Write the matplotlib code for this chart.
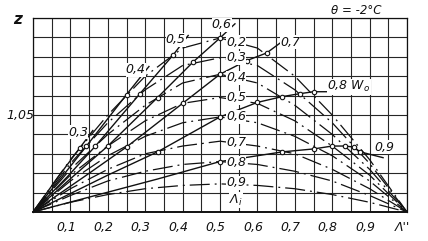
import numpy as np
import matplotlib
matplotlib.use("Agg")
import matplotlib.pyplot as plt

# ---------------- data ----------------
lam_levels = ["0,2", "0,3", "0,4", "0,5", "0,6", "0,7", "0,8", "0,9"]
arch_x = [0.0, 0.1, 0.2, 0.3, 0.4, 0.5, 0.6, 0.7, 0.8, 0.9, 1.0]
arch_02 = [1.000, 1.027, 1.050, 1.070, 1.0845, 1.0897, 1.0845, 1.070, 1.050, 1.027, 1.000]
arch_03 = [1.000, 1.025, 1.046, 1.063, 1.0755, 1.0795, 1.0755, 1.063, 1.046, 1.025, 1.000]
arch_04 = [1.000, 1.022, 1.040, 1.055, 1.0665, 1.071, 1.0665, 1.055, 1.040, 1.022, 1.000]
arch_05 = [1.000, 1.019, 1.034, 1.047, 1.056, 1.059, 1.056, 1.047, 1.034, 1.019, 1.000]
arch_06 = [1.000, 1.016, 1.029, 1.039, 1.046, 1.049, 1.046, 1.039, 1.029, 1.016, 1.000]
arch_07 = [1.000, 1.012, 1.022, 1.030, 1.034, 1.0365, 1.034, 1.030, 1.022, 1.012, 1.000]
arch_08 = [1.000, 1.0085, 1.016, 1.021, 1.0245, 1.026, 1.0245, 1.021, 1.016, 1.0085, 1.000]
arch_09 = [1.000, 1.005, 1.009, 1.012, 1.0137, 1.0145, 1.0137, 1.012, 1.009, 1.005, 1.000]
arches = [arch_02, arch_03, arch_04, arch_05, arch_06, arch_07, arch_08, arch_09]
lam_label_x = 0.543
lam_label_z = [1.0876, 1.0794, 1.0691, 1.0588, 1.0490, 1.0360, 1.0253, 1.0150]

# W_o curves: line points and marker points
wo_names = ["0,3", "0,4", "0,5", "0,6", "0,7", "0,8 W$_o$", "0,9"]
wo03_x = [0, 0.067, 0.125, 0.16];  wo03_z = [1.0, 1.018, 1.033, 1.042]
wo04_x = [0, 0.077, 0.143, 0.25, 0.31];  wo04_z = [1.0, 1.018, 1.034, 1.0605, 1.075]
wo05_x = [0, 0.091, 0.167, 0.286, 0.375, 0.415];  wo05_z = [1.0, 1.018, 1.034, 1.061, 1.081, 1.091]
wo06_x = [0, 0.111, 0.2, 0.333, 0.429, 0.5, 0.54];  wo06_z = [1.0, 1.019, 1.034, 1.059, 1.0775, 1.0897, 1.097]
wo07_x = [0, 0.143, 0.25, 0.4, 0.5, 0.571, 0.625, 0.66];  wo07_z = [1.0, 1.019, 1.0335, 1.056, 1.071, 1.078, 1.082, 1.087]
wo08_x = [0, 0.2, 0.333, 0.5, 0.6, 0.667, 0.714, 0.75, 0.81];  wo08_z = [1.0, 1.019, 1.031, 1.049, 1.0565, 1.0595, 1.061, 1.062, 1.062]
wo09_x = [0, 0.333, 0.5, 0.667, 0.75, 0.8, 0.833, 0.857, 0.875, 0.936];  wo09_z = [1.0, 1.017, 1.026, 1.031, 1.0325, 1.034, 1.034, 1.0335, 1.031, 1.028]
wo_lines = [(wo03_x, wo03_z), (wo04_x, wo04_z), (wo05_x, wo05_z), (wo06_x, wo06_z),
            (wo07_x, wo07_z), (wo08_x, wo08_z), (wo09_x, wo09_z)]
# markers = intersections with the Lambda_i arches (skip origin, half point and label extension)
wo_marker_slices = [(2, 3), (2, 4), (2, 5), (2, 6), (2, 7), (2, 8), (2, 9)]
wo_label_x = [0.120, 0.275, 0.382, 0.505, 0.687, 0.845, 0.939]
wo_label_z = [1.0412, 1.0732, 1.0887, 1.0964, 1.0876, 1.0645, 1.0335]

xtick_vals = [0.1, 0.2, 0.3, 0.4, 0.5, 0.6, 0.7, 0.8, 0.9, 1.0]
xtick_labels = ["0,1", "0,2", "0,3", "0,4", "0,5", "0,6", "0,7", "0,8", "0,9", "Λ''"]

# ---------------- drawing ----------------
FONT = ["Liberation Sans Narrow", "DejaVu Sans"]
plt.rcParams["font.family"] = FONT
ink = "#111111"

fig = plt.figure(figsize=(4.28, 2.41), dpi=100)
ax = fig.add_axes([33 / 428, 29 / 241, 374 / 428, 194 / 241])
ax.set_xlim(0, 1)
ax.set_ylim(1.0, 1.1)
ax.set_xticks(np.arange(0, 1.0001, 0.05))
ax.set_yticks(np.arange(1.0, 1.1001, 0.01))
ax.tick_params(length=0, labelbottom=False, labelleft=False)
ax.grid(True, color="#262626", lw=0.8)
for s in ax.spines.values():
    s.set_color(ink)
    s.set_linewidth(0.9)
ax.spines["bottom"].set_linewidth(1.4)
ax.set_axisbelow(True)

dash = (0, (16, 4, 1.5, 4))
for az in arches:
    ax.plot(arch_x, az, color=ink, lw=0.9, linestyle=dash, zorder=3)

for (lx, lz), (a, b) in zip(wo_lines, wo_marker_slices):
    ax.plot(lx, lz, color=ink, lw=1.0, zorder=4)
    ax.plot(lx[a:b], lz[a:b], linestyle="none", marker="o", ms=3.2,
            mfc="white", mec=ink, mew=0.8, zorder=5)

for lab, z in zip(lam_levels, lam_label_z):
    ax.text(lam_label_x, z, lab, fontsize=9, style="italic", color=ink,
            ha="center", va="center", zorder=6,
            bbox=dict(facecolor="white", edgecolor="none", pad=0.3))
ax.text(lam_label_x, 1.0062, "Λ$_i$", fontsize=9, style="italic", color=ink,
        ha="center", va="center", zorder=6,
        bbox=dict(facecolor="white", edgecolor="none", pad=0.3))

for lab, x, z in zip(wo_names, wo_label_x, wo_label_z):
    ax.text(x, z, lab, fontsize=9, style="italic", color=ink,
            ha="center", va="center", zorder=6,
            bbox=dict(facecolor="white", edgecolor="none", pad=0.2))

for v, lab in zip(xtick_vals, xtick_labels):
    ax.text(v - 0.012, -0.08, lab, transform=ax.get_xaxis_transform(),
            fontsize=9, style="italic", color=ink, ha="center", va="center")

fig.text(20 / 428, 1 - 115 / 241, "1,05", fontsize=9, style="italic", color=ink,
         ha="center", va="center")
fig.text(18 / 428, 1 - 19 / 241, "z", fontsize=11, style="italic", weight="bold",
         color=ink, ha="center", va="center")
fig.text(356 / 428, 1 - 10 / 241, "θ = -2°C", fontsize=8.5, style="italic",
         color=ink, ha="center", va="center")

fig.savefig("out.png", dpi=100, facecolor="white")
